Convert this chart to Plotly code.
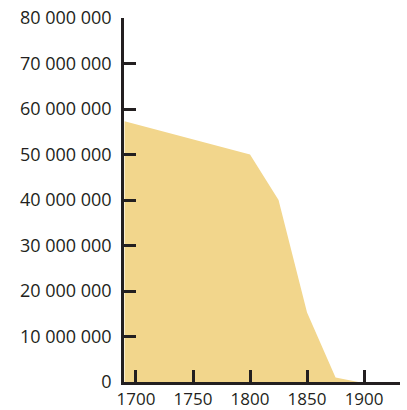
import plotly.graph_objects as go

years = [1690, 1800, 1825, 1850, 1875, 1895]
values = [57300000, 50000000, 40000000, 15300000, 1000000, 0]

y_tickvals = [0, 10000000, 20000000, 30000000, 40000000, 50000000, 60000000, 70000000, 80000000]
y_ticktext = ["0", "10 000 000", "20 000 000", "30 000 000", "40 000 000",
              "50 000 000", "60 000 000", "70 000 000", "80 000 000"]
x_tickvals = [1700, 1750, 1800, 1850, 1900]
x_ticktext = ["1700", "1750", "1800", "1850", "1900"]

ink = "#231f20"

fig = go.Figure(go.Scatter(
    x=years, y=values, mode="lines", fill="tozeroy",
    fillcolor="#F2D68C", line=dict(width=0, color="#F2D68C"),
    hoverinfo="skip", showlegend=False,
))

fig.update_layout(
    width=407, height=410,
    margin=dict(l=124, r=7, t=18, b=28),
    paper_bgcolor="white", plot_bgcolor="white",
    font=dict(family="Open Sans, Lato, sans-serif", size=18, color=ink),
    xaxis=dict(
        range=[1689.5, 1931.5], tickvals=x_tickvals, ticktext=x_ticktext,
        showgrid=False, zeroline=False, showline=True, linecolor=ink, linewidth=2.5,
        ticks="inside", ticklen=12, tickwidth=2.5, tickcolor=ink,
        tickfont=dict(size=17), automargin=False, fixedrange=True,
    ),
    yaxis=dict(
        range=[0, 80000000], tickvals=y_tickvals, ticktext=y_ticktext,
        showgrid=False, zeroline=False, showline=True, linecolor=ink, linewidth=2.5,
        ticks="inside", ticklen=12, tickwidth=2.5, tickcolor=ink,
        ticklabelstandoff=6, automargin=False, fixedrange=True,
    ),
)

fig.write_html(
    "out.html",
    config={"displayModeBar": False},
    post_script="document.body.style.margin='0';document.body.style.overflow='hidden';",
)
